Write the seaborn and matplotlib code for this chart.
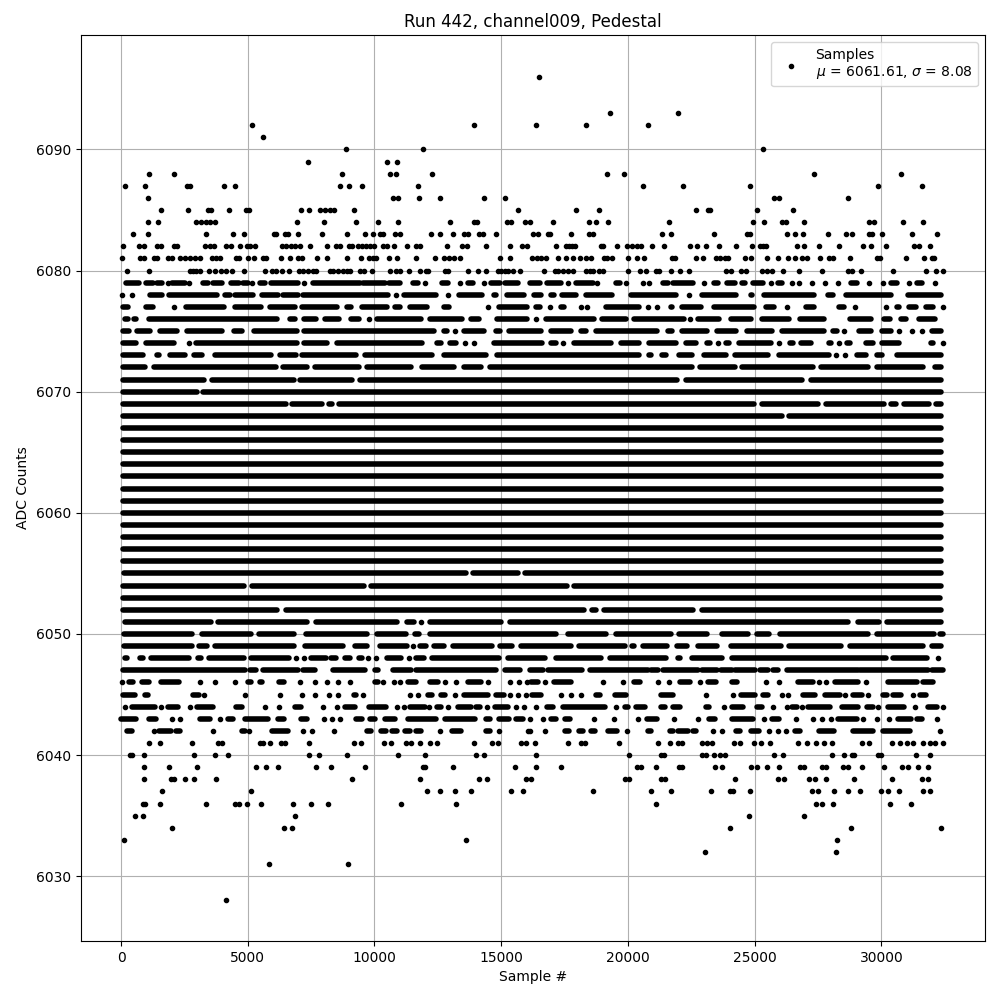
import matplotlib
matplotlib.use("Agg")
import matplotlib.pyplot as plt
import pandas as pd
import seaborn as sns

# Sample numbers, one list per ADC level.
# An int is a single visible dot; a tuple (a, b) is a stretch of the row where
# the dots overlap into a solid bar, too dense to read individually.
lvl_6096 = [16495]
lvl_6093 = [19298, 21983]
lvl_6092 = [5165, 13930, 16377, 18351, 20799]
lvl_6091 = [5599]
lvl_6090 = [8876, 11916, 25339]
lvl_6089 = [7376, 10508, 10903]
lvl_6088 = [1099, 2086, 8718, 10613, 10850, 12272, 19180, 19851, 27352, 30787]
lvl_6087 = [151, 941, 2599, 2731, 4060, 4494, 8639, 8995, 9508, 11719, 20601, 22181, 24826, 29853, 31616]
lvl_6086 = [1059, 10732, 10929, 11758, 12587, 14324, 15154, 25773, 25971, 28695]
lvl_6085 = [1572, 2638, 3428, 3533, 4257, 4941, 5047, 7100, 7415, 7837, 8034, 8231, 8389, 9192, 15667,
            17956, 18864, 22694, 23168, 23233, 25076, 26523]
lvl_6084 = [1059, 1454, 2954, 3152, 3336, 3494, 3704, 6942, 8008, 9271, 10140, 10929, 12982, 13916, 14061,
            15233, 15404, 15943, 16153, 17048, 18469, 18746, 19220, 21628, 24944, 25378, 26089, 26247, 26958,
            29497, 29695, 30866, 31656]
lvl_6083 = [467, 1059, 3349, 4415, 4849, 6021, 6126, 6455, 6586, 6981, 7929, 8916, 9626, 9942, 10205, 10337,
            10811, 11021, 12232, 12587, 13101, 13535, 13693, 14127, 14285, 14798, 16259, 16456, 16851, 16943,
            17759, 18469, 18627, 21352, 21707, 23404, 24681, 24812, 26260, 26602, 26918, 27905, 28616, 28853,
            29497, 29616, 30037, 31221, 32208]
lvl_6082 = [72, 704, 901, 1414, 1559, 2073, 2217, 3310, 3494, 3678, 4139, 4336, 4691, 4968, 5099, 5284, 6349,
            6521, 6718, 6850, 7047, 7455, 8126, 8481, 8652, 8995, 9113, 9350, 9508, 9679, 9837, 9995, 10350,
            10495, 10784, 11285, 11653, 11811, 12863, 13456, 13653, 14403, 15351, 15825, 16022, 17180, 17548,
            17680, 17811, 17930, 18943, 19022, 19575, 19970, 20180, 20365, 20536, 20957, 21430, 22457, 22733,
            23089, 23602, 24273, 24905, 25207, 25339, 25444, 26681, 26958, 27550, 28339, 29287, 29603, 30195,
            31287, 31498, 31932]
lvl_6081 = [33, 730, 888, 1283, 1414, 1836, 2020, 2323, 2520, 2704, 2902, 3099, 3586, 3757, 3915, 4520, 4652,
            5007, 5244, 5599, 5731, 6310, 6665, 6981, 7126, 7731, 8126, 8916, 9455, 9784, 9942, 10074, 10574,
            10890, 11640, 12377, 12745, 12956, 13140, 13377, 14956, 15338, 16232, 16417, 16588, 16785, 17232,
            17561, 17838, 18127, 18338, 18562, 19049, 19180, 19378, 20022, 20365, 20628, 21720, 21852, 22694,
            22970, 23470, 23628, 23825, 23957, 24628, 24865, 25497, 25931, 26326, 26602, 26853, 27050, 27589,
            27931, 28076, 28774, 29840, 29945, 30985, 31695, 31985, 32077]
lvl_6080 = [230, 1099, 2704, 2836, 2967, 3125, 3467, 3704, 3941, 4152, 4362, 4849, 5678, 5942, 6100, 6349, 6626,
            7021, 7179, 7376, 7573, 7679, 8231, 8363, 8560, 8758, 8916, 9047, 9442, 9574, 9903, 10613, 10863,
            10995, 11363, 11798, 12021, 12113, 12784, 12903, 13693, 14088, 14403, 14877, 15009, 15140, 15272,
            15482, 15732, 16680, 17114, 17246, 17443, 17640, 17838, 18364, 18496, 18627, 18864, 19022, 20009,
            20496, 20733, 21101, 21233, 21707, 22062, 22418, 23852, 24049, 24470, 24655, 25299, 25484, 25694,
            26128, 26760, 27668, 28695, 28840, 29208, 30471, 31748, 32169, 32419]
lvl_6079 = [(204, 704), (993, 1257), (1414, 1599), 1849, (2020, 2507), 2678, (3231, 3428), (3625, 3994),
            (4323, 4652), (4810, 5007), 5178, (5468, 5692), (5928, 6981), 7218, (7573, 9416), (9547, 10403),
            (10574, 10995), (11521, 11719), 12000, (12679, 12903), 13377, (13693, 13890), 14324, (14614, 14943),
            (15140, 15667), (16127, 16522), (16811, 17377), 17640, (17943, 18627), 18798, (19549, 19680), 19943,
            20601, 20838, (21391, 21588), (21786, 22575), 23010, (23391, 23562), (23891, 24220), (24484, 24615),
            (24944, 25339), 25655, (25931, 26063), 26484, 26760, 27247, 27787, 28300, (28786, 29024), 29497,
            30050, (30366, 30603), 31103, (31393, 31590), 32116]
lvl_6078 = [33, 428, (1050, 1730), (1800, 3900), (4000, 4390), (4400, 5285), (5450, 6270), (6310, 7060),
            (7100, 10614), 10863, (11061, 12508), 12903, (13232, 14351), (14610, 14877), (15140, 15996),
            (16193, 16654), (16851, 17180), (17312, 18036), (18233, 19483), (20010, 21984), 22418, (22813, 24352),
            (24747, 25010), (25273, 27445), (27905, 28103), (28524, 30472), (30972, 32446)]
lvl_6077 = [(0, 350), (900, 1340), 2073, (2467, 4152), (4415, 5599), (5797, 6960), (7047, 8626), (8823, 9152),
            (9416, 10600), (10798, 10995), (11324, 12153), (12640, 13035), 14482, (14811, 16127), (16391, 16522),
            16917, (17246, 17575), 18167, 18391, (19049, 20536), 20773, 21155, (21589, 21852), (22050, 22970),
            (23300, 25076), (25340, 25866), 26287, (26919, 27445), (28235, 28630), 28971, 30182, (30537, 30801),
            (30998, 31459), (31656, 32117), 32440]
lvl_6076 = [(60, 350), (400, 680), (1020, 6258), (6587, 6960), (7113, 7771), (7968, 8692), (8995, 9481), 9771,
            (10008, 11916), (12114, 13561), (13732, 14219), (14745, 16127), 16364, (16654, 18759), (18891, 20010),
            (20141, 22313), 22444, (22681, 23694), (23957, 24944), (25182, 26458), (26682, 27840), (28656, 29682),
            (30103, 30340), (30669, 31064), (31393, 32209)]
lvl_6075 = [(0, 410), (533, 1257), (1454, 2310), (2507, 4086), (4349, 4876), (5139, 7040), (7113, 12443),
            (12640, 12969), 13166, (13429, 14417), (14811, 14943), (15206, 16654), (16851, 17838), (18167, 18364),
            (18627, 21260), (21563, 21720), (22050, 23234), (23431, 24352), (24615, 25800), (25971, 27840),
            (28103, 28261), 28537, (29024, 29682), (29919, 30472), 30709, 31196, 31617, (31919, 32446)]
lvl_6074 = [(0, 700), (888, 2178), 2678, (2862, 7050), (7113, 8231), (8429, 11982), (12377, 12706), (12903, 13298),
            13587, 13917, (14614, 16720), (16983, 17180), 17443, (17772, 19444), (19615, 20536), (20733, 21984),
            (22181, 22773), (23102, 23234), 23563, (23786, 24089), (24287, 25734), 25971, (26392, 26524),
            (26747, 27313), (27840, 28103), 28327, (28630, 28761), (29287, 29748), (29945, 30801), (31853, 32117),
            32440]
lvl_6073 = [(0, 967), (1322, 1585), (1849, 2599), (2770, 3296), (3625, 5994), (6192, 6980), (7047, 9350),
            (9547, 12377), (12640, 14482), (14745, 20536), (20733, 20997), (21234, 21589), (21918, 22642),
            (22905, 23957), (24129, 25603), (25866, 28037), 28208, 28564, (28958, 29485), (29813, 30011),
            (30537, 32440)]
lvl_6072 = [(0, 1059), (1191, 6192), (6297, 7442), (7573, 9481), (9613, 11521), (11784, 13232), (13429, 14285),
            (14482, 22642), (22747, 24313), (24418, 27379), (27511, 29551), (29748, 31722), (32012, 32440)]
lvl_6071 = [(0, 3362), (3494, 6915), (6981, 9218), (9350, 22050), (22181, 26945), (27116, 32440)]
lvl_6070 = [(0, 3073), (3125, 32440)]
lvl_6069 = [(0, 6586), (6652, 8034), (8100, 8429), (8521, 25076), (25208, 27577), (27735, 30209), (30274, 30669),
            (30800, 31985), (32051, 32440)]
lvl_6068 = [(0, 26190), (26260, 32440)]
lvl_6067 = [(0, 32450)]
lvl_6066 = [(0, 32450)]
lvl_6065 = [(0, 32450)]
lvl_6064 = [(0, 32450)]
lvl_6063 = [(0, 32450)]
lvl_6062 = [(0, 32450)]
lvl_6061 = [(0, 32450)]
lvl_6060 = [(0, 32450)]
lvl_6059 = [(0, 32450)]
lvl_6058 = [(0, 32450)]
lvl_6057 = [(0, 32450)]
lvl_6056 = [(0, 32450)]
lvl_6055 = [(30, 13700), (13800, 15770), (15850, 32440)]
lvl_6054 = [(0, 4950), (5080, 9680), (9780, 17680), (17780, 32440)]
lvl_6053 = [(0, 32400)]
lvl_6052 = [(0, 6257), (6415, 18365), (18470, 18825), (18957, 22682), (22813, 32450)]
lvl_6051 = [(46, 3625), (3731, 7415), (7600, 10995), (11192, 11653), 11850, (12114, 15075), (15272, 28762),
            (28985, 30012), (30143, 32450)]
lvl_6050 = [(6, 2902), (3099, 5205), (5363, 6915), (7205, 9810), (10008, 11324), (11495, 11850), (12114, 17246),
            (17536, 19220), (19417, 21786), (21918, 23234), (23629, 24814), (25011, 25669), (25893, 29551),
            (29748, 32184), (32315, 32450)]
lvl_6049 = [(6, 2902), (2994, 3494), (3625, 6915), (7152, 8850), (9126, 9810), (10140, 11363), 11521, (11719, 12114),
            (12245, 12837), (12995, 14746), (14877, 15535), (15706, 17838), (17970, 19970), (20076, 20339),
            (20496, 21654), (21852, 22445), (22682, 23629), (23958, 26130), (26261, 28498), (28669, 31723),
            (31920, 32450)]
lvl_6048 = [(46, 335), (756, 862), (1099, 2770), (2941, 3230), (3362, 4941), (5020, 6718), 6915, 7218, (7415, 8166),
            (8297, 8494), (8732, 9113), (9389, 9521), 9745, 10048, (10403, 11127), 11363, (11548, 12048),
            (12179, 15009), (15180, 16812), (17075, 19023), (19180, 21589), (21892, 22155), (22418, 23827),
            (23998, 30275), (30380, 31894), 32223]
lvl_6047 = [(72, 4876), (5099, 5336), (5599, 6981), (7179, 7639), (8363, 9613), (10008, 10140), (10732, 11456),
            (11653, 14785), (15140, 15758), (16127, 16653), (16851, 18206), (18522, 20799), (20930, 21194),
            (21365, 22773), (22943, 23497), (23654, 24089), (24220, 25010), (25207, 25536), (25734, 25931),
            (26260, 29089), (29159, 31853), (31985, 32445)]
lvl_6046 = [33, (309, 467), (822, 1099), (1559, 2270), 3099, 3704, 4494, (5007, 5139), (5494, 5573), (6231, 6415),
            7047, 7652, 8126, 8560, 9034, (10008, 10140), 10337, 10771, 10995, (11324, 11653), (12179, 12508), 12784,
            13206, (13693, 14219), 14482, 15351, 15706, 16035, (16166, 16456), 16732, (17075, 17772), 19022, 19812,
            (20233, 20496), 21194, 21628, (22049, 22444), 22852, (23168, 23457), (24089, 24312), 25457, 25971,
            (26721, 27286), 27537, 27826, (28168, 29089), 29405, (30274, 31392), (31656, 32050)]
lvl_6045 = [(72, 533), (928, 1059), (2836, 3073), 3283, 4889, 6270, 7139, 7652, 8205, 8560, (9179, 9258), 9547, 11403,
            11719, (12113, 12285), (12640, 12771), 13180, (13535, 14482), (14811, 15101), 15338, 15667, 15995,
            (16232, 16588), 17364, 17759, 18154, (18759, 18890), (19483, 19943), (21325, 21786), 23089, 24155,
            (24444, 25010), (25339, 25536), 26089, 26326, (26918, 27378), (27773, 28366), 28576, (28892, 29221), 29484,
            (30076, 30235), (30471, 30761), 31261, (31524, 31761)]
lvl_6044 = [151, (428, 1322), 1572, (1849, 2244), 2717, (2994, 3625), (4520, 4783), 5678, 6231, (6850, 7087), 7968,
            8521, (8837, 9218), (9784, 10442), 10890, 11166, (11416, 11982), 12153, (12469, 12640), 12903,
            (13298, 13824), (14022, 14153), 14456, (14745, 15272), 15588, 15904, 16377, (16811, 17048), (17443, 19088),
            19522, (19878, 20009), (20338, 20667), (21299, 21457), (21786, 22049), (23062, 23194), 23799,
            (24089, 24549), (25076, 25299), 25734, 26260, (26457, 26655), 26853, (27115, 27971), (28431, 29089),
            (29445, 29682), 29879, (30274, 30892), 31327, (31827, 32182), 32419]
lvl_6043 = [(3, 599), (1099, 1388), 2007, 2323, (3125, 3494), 3902, (4218, 4415), (4889, 5797), (6192, 6415),
            (7113, 7336), 8008, 8324, 8639, (9284, 9508), (9837, 10008), (10416, 10798), (11324, 12443), (12771, 13956),
            (14417, 14574), (14917, 15312), (15601, 15864), 16127, 16653, (16982, 17153), (17535, 17706), 18667, 19456,
            20404, (20759, 21154), 21825, 22773, (23194, 23444), (24115, 24944), 25378, (25668, 25971), 26616, 27313,
            27642, 28011, (28300, 29024), 29287, 29826, 30313, (30668, 31169), (31393, 31590), 32208]
lvl_6042 = [(243, 428), 1296, (1493, 1980), (2151, 2310), 3625, (4783, 4875), 5047, (5955, 6587), 7179, 7534, 8403,
            (9718, 9876), (10271, 10442), (10705, 10890), (11192, 11416), (11653, 11850), 12587, (13061, 13430),
            (14417, 14574), 14930, 16062, 16127, 16732, (17535, 17667), (18075, 18233), (18562, 18706), (19220, 19575),
            19970, (20799, 20930), (21654, 21786), (21957, 22378), (22549, 22681), 23365, 23720, (24260, 24418),
            (24839, 25155), 25576, 25905, 26247, (26602, 26787), (27550, 28129), (28892, 29682), (30050, 31129), 32327]
lvl_6041 = [1099, 1533, 2796, 3823, 3981, 5481, 5599, 5876, 6323, 6455, 7415, 9192, 9468, 10377, 10653, 11258, 11456,
            11798, 12193, 12469, 13930, 14640, 14877, 15785, 15995, 16338, 17640, 18167, 18298, 19654, 21194, 21667,
            21983, 22115, 22904, 23102, 23325, 24194, 24418, 24984, 25260, 25615, 26721, 27076, 27431, 27747, 28037,
            29221, 29524, 30405, 30734, 30998, 31234, 31629, 31918, 32103, 32445]
lvl_6040 = [349, 428, 901, 2875, 3704, 4218, 7402, 7810, 8916, 10929, 12000, 14008, 14324, 16377, 20049, 21299, 21430,
            22904, 23062, 23404, 23641, 23812, 25773, 26128, 28063, 28537, 28826, 28918, 29879, 29971, 31379, 31932]
lvl_6039 = [901, 1888, 2994, 5323, 5718, 6191, 7692, 8284, 9626, 11916, 11995, 13101, 15548, 16377, 17364, 20365, 20522,
            21115, 22023, 22128, 23444, 23720, 24865, 25076, 25497, 25971, 26787, 26945, 27668, 27800, 28498, 28668,
            29247, 30116, 30800, 31063, 31458, 31853]
lvl_6038 = [901, 1980, 2073, 2520, 2875, 3744, 9113, 11798, 14127, 14443, 15995, 16193, 19891, 20049, 21312, 21470,
            24234, 25931, 26168, 27155, 27392, 27826, 28931, 30418, 31616, 31853]
lvl_6037 = [1612, 5126, 12074, 12587, 13180, 13811, 15390, 15864, 18627, 20917, 21707, 23286, 24023, 24155, 24826,
            27273, 27510, 28142, 28695, 29168, 29997, 30248, 30708, 31656, 31905]
lvl_6036 = [862, 954, 1533, 3349, 4481, 4652, 4968, 5520, 6784, 7494, 8166, 11048, 13219, 21115, 27431, 27668, 28103,
            30353, 31182]
lvl_6035 = [559, 862, 6863, 24786, 26958]
lvl_6034 = [2007, 6428, 6744, 24036, 28813, 32366]
lvl_6033 = [112, 13614, 28261]
lvl_6032 = [23049, 28221]
lvl_6031 = [5836, 8955]
lvl_6028 = [4139]

# Levels whose bars were read by their outer edge rather than by dot centres.
EDGE_READ = range(6048, 6079)

x_ticks = [0, 5000, 10000, 15000, 20000, 25000, 30000]
y_ticks = [6030, 6040, 6050, 6060, 6070, 6080, 6090]
legend_label = "Samples\n$\\mu$ = 6061.61, $\\sigma$ = 8.08"

rows = {int(k[4:]): v for k, v in list(globals().items()) if k.startswith("lvl_")}
dot_x, dot_y, bars = [], [], []
for level, row in rows.items():
    for item in row:
        if isinstance(item, tuple):
            bars.append((level, item[0], item[1]))
        else:
            dot_x.append(item)
            dot_y.append(level)
dots = pd.DataFrame({"sample": dot_x, "adc": dot_y})

fig, ax = plt.subplots(figsize=(10, 10), dpi=100)
fig.subplots_adjust(left=0.0805, right=0.985, top=0.965, bottom=0.059)

sns.scatterplot(data=dots, x="sample", y="adc", marker=".", color="black", s=36,
                edgecolor="black", linewidth=1, zorder=3, label=legend_label, ax=ax)

cap = 95  # half a dot, in samples
for level, a, b in bars:
    if level in EDGE_READ and b - a > 2.5 * cap:
        a, b = a + cap, b - cap
    segment = ax.hlines(level, a, b, color="black", linewidth=4, zorder=3)
    segment.set_capstyle("round")

ax.set_xlim(-1600, 34090)
ax.set_ylim(6024.65, 6099.45)
ax.set_xticks(x_ticks)
ax.set_yticks(y_ticks)
ax.ticklabel_format(useOffset=False, style="plain")
ax.grid(True)
ax.set_title("Run 442, channel009, Pedestal")
ax.set_xlabel("Sample #")
ax.set_ylabel("ADC Counts")
ax.legend(loc="upper right")

fig.savefig("out.png", dpi=100)
